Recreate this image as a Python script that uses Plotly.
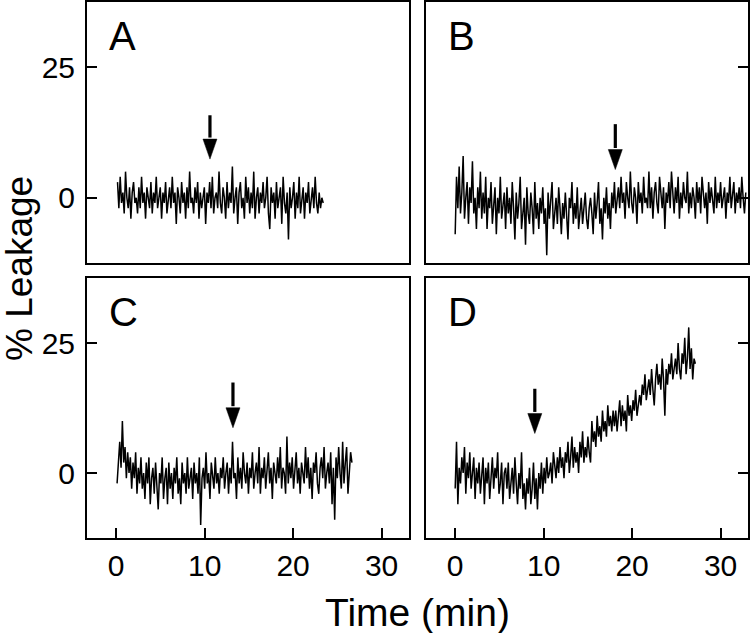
import numpy as np
import plotly.graph_objects as go

# ---------------- data ----------------
panel_labels = ["A", "B", "C", "D"]

# time span of each recorded trace (min)
t_span_A = (0.15, 23.4)
t_span_B = (0.0, 32.85)
t_span_C = (0.1, 26.65)
t_span_D = (0.0, 27.15)

leak_A = [3, -2, 4, -1, 1, -3, 5, 0, -2, 2, -4, 1, 3, -1, 0, -3, 2, -2, 4, -1,
          1, -4, 2, 0, -2, 3, -3, 1, -1, 4, -2, 0, 2, -4, 1, -1, 3, -3, 0, 2,
          -2, 4, -1, 1, -5, 2, 0, -3, 3, -1, 1, -4, 2, -2, 5, -1, 0, -3, 2, -1,
          3, -4, 1, -2, 0, 2, -5, 1, -1, 3, -2, 4, -3, 0, 1, -2, 5, -1, -3, 2,
          0, -4, 3, -2, 1, -1, 6, -3, 0, 2, -5, 1, 3, -2, 0, -4, 4, -1, 2, -3,
          1, -2, 5, -4, 0, 2, -3, 1, -1, 3, -2, 0, 4, -3, -6, 2, -1, 1, -4, 3,
          -2, 0, 2, -5, 4, -1, -3, 1, -8, 2, -2, 0, 3, -4, 1, -2, 4, -3, 0, 2,
          -4, 1, -1, 3, -3, 0, 2, -2, 4, -1, -3, 1, -2, 0, -1]

leak_B = [-7, 4, -2, 6, -3, 1, 8, -4, 0, 3, -5, 2, -1, 7, -3, 0, -6, 2, -2, 5,
          -4, 1, -3, 4, -6, 0, -2, 3, -5, -1, 2, -7, 0, -3, 4, -4, -1, 1, -6, 2,
          -3, 0, -5, 3, -2, -8, 1, -4, -1, 4, -6, -2, 0, -9, 2, -3, -5, 1, -2, -7,
          3, -4, -1, -6, 0, -3, 2, -5, -2, -11, 1, -4, -1, 3, -6, -3, 0, -5, 2, -2,
          -7, -1, -4, 1, -3, -8, 0, -2, 3, -5, -1, -4, 2, -6, -3, 0, -5, -2, 1, -4,
          -6, -2, 0, -3, -7, 1, -4, -1, 3, -5, -2, -8, 0, -3, 2, -4, -1, -6, 1, -2,
          3, -3, 0, 2, -2, 4, -1, 1, -4, 3, 0, -2, 5, -1, -3, 2, 0, -5, 3, -1,
          1, -3, 4, -1, 0, -2, 5, -2, 2, -4, 1, 3, -1, -3, 4, 0, -2, 2, -6, 1,
          -1, 3, -2, 5, 0, -3, 2, -1, 4, -4, 1, -2, 3, 0, -1, 5, -3, 1, -2, 2,
          0, -4, 3, -1, 2, -3, 4, 0, -2, 1, -5, 3, -1, 2, 0, -3, 4, -2, 1, -1,
          3, -2, 0, 2, -4, 1, -1, 4, -2, 0, 3, -3, 1, -1, 2, -2, 4, 0, -3, 1]

leak_C = [-2, 3, 6, 1, 10, 2, 5, -1, 4, 0, 3, -3, 2, -1, 4, -4, 1, -2, 3, -3,
          0, -5, 2, -2, 3, -6, -1, 1, -4, 2, -3, -7, 0, -2, 3, -5, -1, 1, -6, 2,
          -3, 0, -5, 1, -2, 3, -4, -1, -6, 2, -2, 0, -4, 3, -3, -1, 1, -5, 2, -2,
          0, -4, 3, -10, -1, 1, -3, 4, -2, 0, -5, 2, -1, -3, 3, -2, 0, -4, 1, -1,
          3, -3, 0, 2, -4, 1, -2, 6, -1, 0, -5, 3, -2, 1, -3, 4, 0, -2, 2, -4,
          1, -1, 4, -3, 0, 2, -2, 5, -4, 1, -1, 3, -3, 0, 4, -2, 1, -5, 2, 0,
          -2, 3, -1, 5, -3, 1, 0, -4, 7, -2, 2, -1, 3, -3, 0, 4, -2, 1, -4, 2,
          0, -2, 5, -1, 3, -3, 1, -5, 2, 0, 4, -2, -4, 1, 3, -1, 5, -3, 0, 2,
          -2, 4, -6, 1, -9, 3, -1, 5, 0, -3, 6, -2, 2, 5, -4, 1, 4, 2]

leak_D = [-3, 6, -6, 1, -2, 3, 0, 5, -4, 2, -1, 4, -3, 0, 3, -5, 1, -2, 2, -4,
          0, 3, -6, 1, -2, 2, -5, 0, 3, -3, 1, -1, 4, -4, -2, 2, -6, 0, 1, -3,
          2, -5, -1, 1, -4, 3, -2, -6, 0, -3, 4, -5, -2, -7, -1, -4, 1, -6, -3, 2,
          -5, -1, -7, 0, -3, 2, -4, 1, -2, 3, -1, 0, 2, -2, 4, 1, -1, 3, 0, 5,
          1, 3, -1, 4, 2, 6, 0, 3, 7, 1, 5, 2, 4, 0, 6, 3, 8, 2, 5, 3,
          7, 4, 2, 10, 6, 8, 5, 11, 7, 9, 6, 12, 8, 10, 7, 13, 9, 11, 8, 12,
          9, 12, 8, 11, 14, 9, 13, 10, 12, 8, 15, 11, 13, 10, 14, 12, 16, 11, 13, 15,
          13, 17, 15, 19, 14, 16, 18, 15, 20, 16, 13, 18, 21, 17, 19, 16, 22, 18, 11, 20,
          17, 21, 19, 23, 18, 20, 22, 19, 25, 20, 18, 23, 21, 26, 19, 22, 28, 20, 24, 18,
          22, 21]

# arrows: time of addition, tail and tip level (% leakage)
arrow_x = [10.6, 18.1, 13.2, 9.0]
arrow_tail = [15.8, 14.1, 17.4, 16.2]
arrow_tip = [7.4, 5.4, 8.7, 7.6]

x_ticks = [0, 10, 20, 30]
y_ticks = [0, 25]
x_range = [-3.3, 33.1]
y_range = [-12.5, 37.5]

# ---------------- figure ----------------
W, H = 750, 633
FONT = "Arial, Liberation Sans, sans-serif"
spans = [t_span_A, t_span_B, t_span_C, t_span_D]
series = [leak_A, leak_B, leak_C, leak_D]

# panel placement in pixels (left, right, top, bottom)
px_x = [(87, 409), (426, 748), (87, 409), (426, 748)]
px_y = [(2, 263), (2, 263), (278, 538), (278, 538)]

fig = go.Figure()
head_w_px, head_h_px = 7.0, 20.0
for i in range(4):
    sfx = "" if i == 0 else str(i + 1)
    xa, ya = "x" + sfx, "y" + sfx
    vals = np.array(series[i], dtype=float)
    t = np.linspace(spans[i][0], spans[i][1], len(vals))
    fig.add_trace(go.Scatter(x=t, y=vals, mode="lines", xaxis=xa, yaxis=ya,
                             line=dict(color="black", width=1.5), showlegend=False,
                             hoverinfo="skip"))
    # arrow
    xppu = (px_x[i][1] - px_x[i][0]) / (x_range[1] - x_range[0])
    yppu = (px_y[i][1] - px_y[i][0]) / (y_range[1] - y_range[0])
    hw = head_w_px / xppu
    hh = head_h_px / yppu
    base = arrow_tip[i] + hh
    fig.add_trace(go.Scatter(x=[arrow_x[i], arrow_x[i]], y=[arrow_tail[i], base + 0.3],
                             mode="lines", xaxis=xa, yaxis=ya,
                             line=dict(color="black", width=3.2), showlegend=False,
                             hoverinfo="skip"))
    fig.add_trace(go.Scatter(x=[arrow_x[i] - hw, arrow_x[i] + hw, arrow_x[i], arrow_x[i] - hw],
                             y=[base, base, arrow_tip[i], base],
                             mode="lines", fill="toself", fillcolor="black",
                             xaxis=xa, yaxis=ya, line=dict(color="black", width=0.5),
                             showlegend=False, hoverinfo="skip"))

layout = dict(width=W, height=H, margin=dict(l=0, r=0, t=0, b=0),
              paper_bgcolor="white", plot_bgcolor="white", showlegend=False,
              font=dict(family=FONT, color="black"))

for i in range(4):
    sfx = "" if i == 0 else str(i + 1)
    bottom_row = i >= 2
    right_col = i % 2 == 1
    xdom = [px_x[i][0] / W, px_x[i][1] / W]
    ydom = [1 - px_y[i][1] / H, 1 - px_y[i][0] / H]
    layout["xaxis" + sfx] = dict(
        domain=xdom, range=x_range, anchor="y" + sfx,
        showline=True, mirror=True, linecolor="black", linewidth=2,
        showgrid=False, zeroline=False,
        tickmode="array", tickvals=x_ticks if bottom_row else [],
        ticktext=[str(v) for v in x_ticks] if bottom_row else [],
        ticks="inside" if bottom_row else "", ticklen=10, tickwidth=1.5, tickcolor="black",
        showticklabels=bottom_row, ticklabelstandoff=0,
        tickfont=dict(family=FONT, size=30, color="black"),
    )
    layout["yaxis" + sfx] = dict(
        domain=ydom, range=y_range, anchor="x" + sfx,
        side="right" if right_col else "left",
        showline=True, mirror=True, linecolor="black", linewidth=2,
        showgrid=False, zeroline=False,
        tickmode="array", tickvals=y_ticks, ticktext=[str(v) for v in y_ticks],
        ticks="inside", ticklen=10, tickwidth=1.5, tickcolor="black",
        showticklabels=not right_col, ticklabelstandoff=4,
        tickfont=dict(family=FONT, size=30, color="black"),
    )

fig.update_layout(**layout)

annotations = []
for i, lab in enumerate(panel_labels):
    sfx = "" if i == 0 else str(i + 1)
    annotations.append(dict(text=lab, xref="x" + sfx + " domain", yref="y" + sfx + " domain",
                            x=0.062, y=0.87, xanchor="left", yanchor="middle",
                            showarrow=False, font=dict(family=FONT, size=40, color="black")))
annotations.append(dict(text="Time (min)", xref="paper", yref="paper",
                        x=(87 + 748) / 2 / W, y=1 - 612 / H, xanchor="center", yanchor="middle",
                        showarrow=False, font=dict(family=FONT, size=39, color="black")))
annotations.append(dict(text="% Leakage", xref="paper", yref="paper",
                        x=19 / W, y=1 - 269 / H, xanchor="center", yanchor="middle",
                        textangle=-90, showarrow=False,
                        font=dict(family=FONT, size=37, color="black")))
fig.update_layout(annotations=annotations)

fig.write_html("out.html", config={"displayModeBar": False},
               post_script="document.body.style.margin='0';document.body.style.padding='0';document.body.style.overflow='hidden';")
